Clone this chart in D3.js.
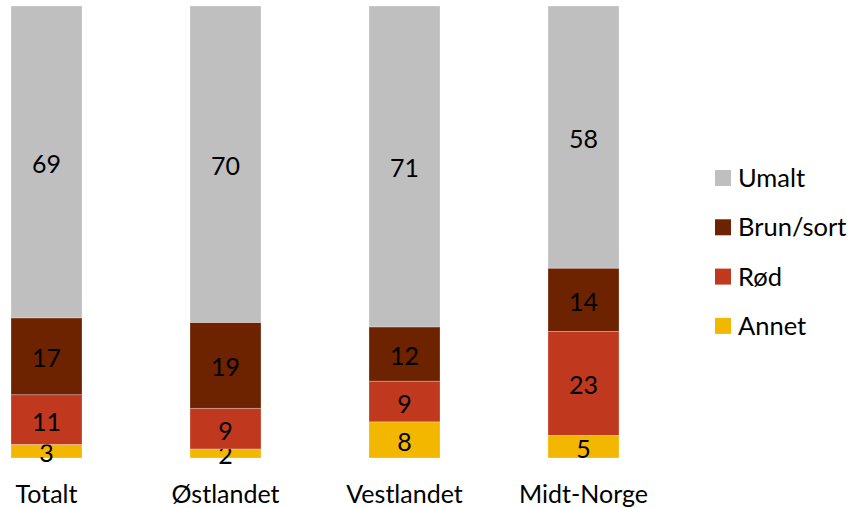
<!DOCTYPE html>
<html>
<head>
<meta charset="utf-8">
<script src="https://cdn.jsdelivr.net/npm/d3@7"></script>
<style>
  html, body { margin: 0; padding: 0; background: #fff; }
  svg { display: block; font-family: Lato, Carlito, Calibri, "Open Sans", sans-serif; }
</style>
</head>
<body>
<svg id="chart" width="851" height="508"></svg>
<script>
// Regions and share of each paint category (percent)
const regions = ["Totalt", "Østlandet", "Vestlandet", "Midt-Norge"];
const seriesNames = ["Annet", "Rød", "Brun/sort", "Umalt"];
const annet    = [3, 2, 8, 5];
const rod      = [11, 9, 9, 23];
const brunSort = [17, 19, 12, 14];
const umalt    = [69, 70, 71, 58];
const colors   = ["#F3B700", "#C0391F", "#6D2200", "#BFBFBF"];
const legendOrder = ["Umalt", "Brun/sort", "Rød", "Annet"];

const seriesValues = [annet, rod, brunSort, umalt];
const rows = regions.map((r, i) => {
  const o = { region: r };
  seriesNames.forEach((s, k) => { o[s] = seriesValues[k][i]; });
  return o;
});

const svg = d3.select("#chart");

const pIn = 108 / 179;
const x = d3.scaleBand()
  .domain(regions)
  .range([-43, 673])
  .paddingInner(pIn)
  .paddingOuter(pIn / 2);

const y = d3.scaleLinear().domain([0, 100]).range([458, 6]);

const color = d3.scaleOrdinal().domain(seriesNames).range(colors);

const stack = d3.stack().keys(seriesNames);
const layers = stack(rows);

const g = svg.append("g");

const layer = g.selectAll("g.layer")
  .data(layers)
  .join("g")
  .attr("class", "layer")
  .attr("fill", d => color(d.key));

layer.selectAll("rect")
  .data(d => d)
  .join("rect")
  .attr("x", d => x(d.data.region))
  .attr("y", d => y(d[1]))
  .attr("width", x.bandwidth())
  .attr("height", d => y(d[0]) - y(d[1]))
  .attr("stroke", "rgba(255,255,255,0.35)")
  .attr("stroke-width", 0.75);

// Value labels centered in each segment
layer.selectAll("text")
  .data(d => d)
  .join("text")
  .attr("x", d => x(d.data.region) + x.bandwidth() / 2)
  .attr("y", d => (y(d[0]) + y(d[1])) / 2 + 2)
  .attr("dy", "0.36em")
  .attr("text-anchor", "middle")
  .attr("fill", "#000")
  .attr("font-size", 25)
  .text(d => d[1] - d[0]);

// Category axis labels
const xAxis = d3.axisBottom(x).tickSize(0).tickPadding(0);
const axisG = svg.append("g")
  .attr("transform", "translate(0,503)")
  .call(xAxis);
axisG.select(".domain").remove();
axisG.selectAll("text")
  .attr("y", 0)
  .attr("dy", 0)
  .attr("font-size", 25)
  .attr("font-family", "Lato, Carlito, Calibri, sans-serif")
  .attr("fill", "#000");

// Legend
const legend = svg.append("g").attr("transform", "translate(715,170)");
const item = legend.selectAll("g")
  .data(legendOrder)
  .join("g")
  .attr("transform", (d, i) => `translate(0,${i * 49.3})`);
item.append("rect")
  .attr("width", 16)
  .attr("height", 16)
  .attr("fill", d => color(d));
item.append("text")
  .attr("x", 23)
  .attr("y", 8)
  .attr("dy", "0.36em")
  .attr("font-size", 25.5)
  .attr("fill", "#000")
  .text(d => d);
</script>
</body>
</html>
